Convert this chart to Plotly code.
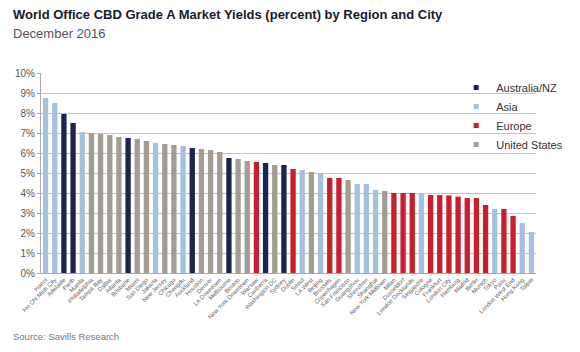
import plotly.graph_objects as go

cities = ["Hanoi", "Ho Chi Minh City", "Adelaide", "Perth", "Manila", "Philadelphia",
          "Tampa Bay", "Dallas", "Atlanta", "Brisbane", "Miami", "San Diego", "Jakarta",
          "New Jersey", "Chicago", "Chengdu", "Auckland", "Houston", "Denver",
          "LA Downtown", "Melbourne", "Boston", "New York Downtown", "Warsaw", "Canberra",
          "Washington DC", "Sydney", "Dublin", "Seoul", "LA West", "Beijing", "Brussels",
          "Copenhagen", "San Francisco", "Guangzhou", "Shenzhen", "Shanghai",
          "New York Midtown", "Milan", "Dusseldorf", "London Docklands", "Singapore",
          "Cologne", "Frankfurt", "London City", "Hamburg", "Madrid", "Berlin", "Munich",
          "Tokyo", "Paris", "London West End", "Hong Kong", "Taipei"]

yields = [8.75, 8.5, 7.95, 7.5, 7.05, 7.0,
          6.95, 6.9, 6.8, 6.75, 6.7, 6.6, 6.5,
          6.45, 6.4, 6.35, 6.25, 6.2, 6.15,
          6.05, 5.75, 5.7, 5.6, 5.55, 5.5,
          5.4, 5.4, 5.2, 5.15, 5.05, 5.0, 4.75,
          4.75, 4.65, 4.45, 4.45, 4.15,
          4.1, 4.0, 4.0, 4.0, 3.97,
          3.9, 3.9, 3.88, 3.82, 3.75, 3.75, 3.4,
          3.2, 3.2, 2.85, 2.5, 2.05]

regions = ["Asia", "Asia", "Australia/NZ", "Australia/NZ", "Asia", "United States",
           "United States", "United States", "United States", "Australia/NZ", "United States",
           "United States", "Asia",
           "United States", "United States", "Asia", "Australia/NZ", "United States",
           "United States",
           "United States", "Australia/NZ", "United States", "United States", "Europe",
           "Australia/NZ",
           "United States", "Australia/NZ", "Europe", "Asia", "United States", "Asia",
           "Europe",
           "Europe", "United States", "Asia", "Asia", "Asia",
           "United States", "Europe", "Europe", "Europe", "Asia",
           "Europe", "Europe", "Europe", "Europe", "Europe", "Europe", "Europe",
           "Asia", "Europe", "Europe", "Asia", "Asia"]

region_order = ["Australia/NZ", "Asia", "Europe", "United States"]
region_colors = {"Australia/NZ": "#1c2550", "Asia": "#a5c1e2",
                 "Europe": "#c81e2e", "United States": "#a49e92"}

yticks = [0, 1, 2, 3, 4, 5, 6, 7, 8, 9, 10]
ytick_labels = ["0%", "1%", "2%", "3%", "4%", "5%", "6%", "7%", "8%", "9%", "10%"]

fig = go.Figure()
for r in region_order:
    xs = [c for c, g in zip(cities, regions) if g == r]
    ys = [v for v, g in zip(yields, regions) if g == r]
    fig.add_trace(go.Bar(x=xs, y=ys, name=r, marker_color=region_colors[r],
                         marker_line_width=0, showlegend=False))
for r in region_order:
    fig.add_trace(go.Scatter(x=[None], y=[None], mode="markers", name=r,
                             marker=dict(symbol="square", size=5, color=region_colors[r])))

L, R, T, B = 41, 18, 73, 79
W, H = 580, 352
pw, ph = W - L - R, H - T - B

def px_x(p):
    return (p - L) / pw

def px_y(p):
    return (H - B - p) / ph

fig.update_layout(
    width=W, height=H,
    margin=dict(l=L, r=R, t=T, b=B, pad=0),
    paper_bgcolor="white", plot_bgcolor="white",
    barmode="overlay", bargap=0.42,
    font=dict(family="Liberation Sans, Arial, sans-serif", color="#444"),
    showlegend=True,
    legend=dict(x=px_x(478), y=px_y(73), xanchor="left", yanchor="top",
                bgcolor="rgba(0,0,0,0)", font=dict(size=11, color="#333"),
                itemwidth=30, tracegroupgap=0),
    xaxis=dict(type="category", categoryorder="array", categoryarray=cities,
               tickangle=-45, tickfont=dict(size=6, color="#666"),
               showgrid=False, showline=True, linecolor="#aaa", linewidth=1,
               ticks="", range=[-0.5, len(cities) - 0.5], fixedrange=True),
    yaxis=dict(range=[0, 10], tickvals=yticks, ticktext=ytick_labels,
               tickfont=dict(size=10, color="#555"), showgrid=True,
               gridcolor="#c4c4c4", gridwidth=1, showline=True, linecolor="#aaa",
               ticks="outside", ticklen=3, tickcolor="#aaa", zeroline=False),
    annotations=[
        dict(text="<b>World Office CBD Grade A Market Yields (percent) by Region and City</b>",
             x=px_x(9), y=px_y(15), xref="paper", yref="paper", xanchor="left",
             yanchor="middle", showarrow=False, font=dict(size=13, color="#1a1a2a")),
        dict(text="December 2016", x=px_x(9), y=px_y(33), xref="paper", yref="paper",
             xanchor="left", yanchor="middle", showarrow=False,
             font=dict(size=13, color="#555")),
        dict(text="Source: Savills Research", x=px_x(9), y=px_y(336), xref="paper",
             yref="paper", xanchor="left", yanchor="middle", showarrow=False,
             font=dict(size=9.5, color="#777")),
    ],
)

fig.write_html("out.html")
